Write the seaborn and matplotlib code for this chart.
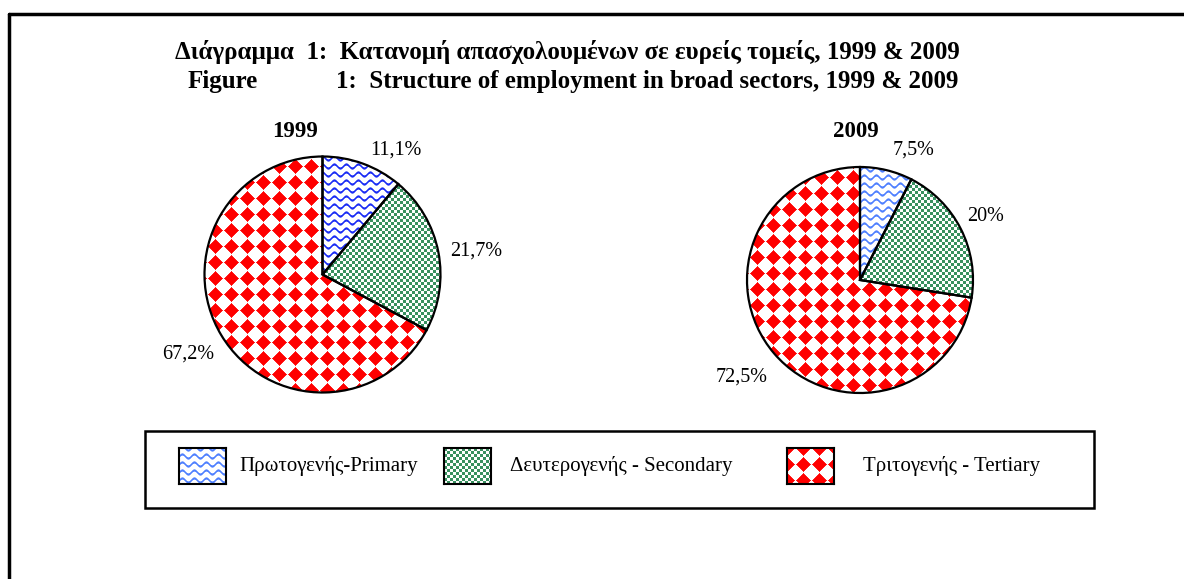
import numpy as np
import matplotlib
matplotlib.use("Agg")
import matplotlib.pyplot as plt
import matplotlib.colors as mcolors
import seaborn as sns
from matplotlib.patches import Rectangle
from matplotlib.lines import Line2D

# ---------------- data ----------------
sectors = ["Πρωτογενής-Primary", "Δευτερογενής - Secondary", "Τριτογενής - Tertiary"]
years = ["1999", "2009"]
shares_1999 = [11.1, 21.7, 67.2]
shares_2009 = [7.5, 20.0, 72.5]
labels_1999 = ["11,1%", "21,7%", "67,2%"]
labels_2009 = ["7,5%", "20%", "72,5%"]
title_gr = "Διάγραμμα  1:  Κατανομή απασχολουμένων σε ευρείς τομείς, 1999 & 2009"
title_en = ("Figure", "1:  Structure of employment in broad sectors, 1999 & 2009")

sns.set_theme(style="white")
plt.rcParams['font.family'] = ['Liberation Serif', 'DejaVu Serif']
plt.rcParams['text.color'] = 'black'

W, H = 1184, 579
fig = plt.figure(figsize=(W / 100, H / 100), dpi=100)
fig.patch.set_facecolor('white')


def px_axes(x0, ytop, w, h):
    return fig.add_axes([x0 / W, 1 - (ytop + h) / H, w / W, h / H])


def texture(kind, w, h, color):
    yy, xx = np.mgrid[0:h, 0:w].astype(float)
    rgb = np.array(mcolors.to_rgb(color))
    if kind == 'wave':
        s, lam, A, t = 8.0, 12.0, 2.0, 1.3
        y0 = yy + A * np.sin(2 * np.pi * xx / lam)
        d = np.abs(((y0 + s / 2) % s) - s / 2)
        a = np.clip(1 - (d - t / 2), 0, 1)
    elif kind == 'check':
        c = 3
        a = (((xx // c) + (yy // c)) % 2 == 0).astype(float) * 0.95
    else:
        s = 16.0
        dx = np.abs(((xx + s / 2) % s) - s / 2)
        dy = np.abs(((yy + s / 2) % s) - s / 2)
        r = 0.46 * s
        a = np.clip(r - (dx + dy) + 0.5, 0, 1)
    img = np.ones((h, w, 3)) * (1 - a[..., None]) + rgb * a[..., None]
    return img


kinds = ['wave', 'check', 'diamond']
GREEN = '#2e8b57'
RED = '#ff0000'


def draw_pie(cx, cy, r, shares, labels, label_pos, year, year_pos, colors):
    pad = 6
    half = r + pad
    ax = px_axes(cx - half, cy - half, 2 * half, 2 * half)
    wedges, _ = ax.pie(shares, startangle=90, counterclock=False, radius=1,
                       wedgeprops=dict(facecolor='none', edgecolor='black',
                                       linewidth=1.6, zorder=3))
    lim = half / r
    npx = int(round(2 * half))
    for w, kind, col in zip(wedges, kinds, colors):
        im = ax.imshow(texture(kind, npx, npx, col), extent=(-lim, lim, -lim, lim),
                       interpolation='nearest', zorder=1, origin='upper')
        im.set_clip_path(w)
    ax.set_xlim(-lim, lim)
    ax.set_ylim(-lim, lim)
    ax.set_aspect('auto')
    ax.axis('off')
    for lab, (lx, ly) in zip(labels, label_pos):
        ax.text(lx, ly, lab, ha='center', va='center', fontsize=14.5, color='black')
    ax.text(year_pos[0], year_pos[1], year, ha='center', va='center',
            fontsize=16.5, fontweight='bold', color='black')


draw_pie(322.5, 274.5, 118, shares_1999, labels_1999,
         [(0.62, 1.055), (1.30, 0.20), (-1.14, -0.67)],
         years[0], (-0.23, 1.216), ['#1a2cf5', GREEN, RED])
draw_pie(860, 280, 113, shares_2009, labels_2009,
         [(0.47, 1.15), (1.115, 0.566), (-1.05, -0.86)],
         years[1], (-0.04, 1.31), ['#4f80ff', GREEN, RED])

# ---------------- titles ----------------
fs_t = 18
fig.text(175 / W, 1 - 52 / H, title_gr, fontsize=fs_t, fontweight='bold', va='center')
fig.text(188 / W, 1 - 81 / H, title_en[0], fontsize=fs_t, fontweight='bold', va='center')
fig.text(958 / W, 1 - 81 / H, title_en[1], fontsize=fs_t, fontweight='bold', va='center',
         ha='right')

# ---------------- legend ----------------
fig.add_artist(Rectangle((145 / W, 1 - 508 / H), (1094 - 145) / W, (508 - 431) / H,
                         transform=fig.transFigure, fill=False, edgecolor='black', lw=1.8))
patch_x = [179, 444, 787]
text_x = [239, 510, 863]
leg_colors = ['#4f80ff', GREEN, RED]
for name, kind, col, px, tx in zip(sectors, kinds, leg_colors, patch_x, text_x):
    lax = px_axes(px, 448, 47, 36)
    lax.imshow(texture(kind, 47, 36, col), interpolation='nearest', aspect='auto')
    lax.set_xticks([])
    lax.set_yticks([])
    for sp in lax.spines.values():
        sp.set_visible(True)
        sp.set_color('black')
        sp.set_linewidth(1.5)
    fig.text(tx / W, 1 - 466 / H, name, fontsize=15, va='center', ha='left')

# ---------------- outer frame ----------------
fig.add_artist(Line2D([9 / W, 9 / W], [0, 1 - 14 / H], transform=fig.transFigure,
                      color='black', lw=2.5))
fig.add_artist(Line2D([9 / W, 1], [1 - 14 / H, 1 - 14 / H], transform=fig.transFigure,
                      color='black', lw=2.5))

fig.savefig('out.png', dpi=100, facecolor='white')
